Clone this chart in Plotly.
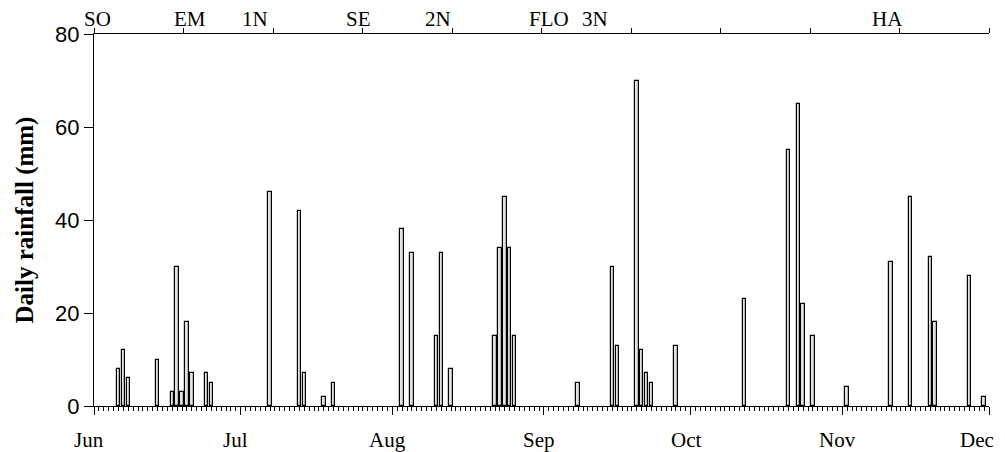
import plotly.graph_objects as go
import pandas as pd
import numpy as np

# ---- data ----
rain_dates = ["06-06", "06-07", "06-08", "06-14", "06-17", "06-18", "06-19", "06-20", "06-21",
              "06-24", "06-25", "07-07", "07-13", "07-14", "07-18", "07-20",
              "08-03", "08-05", "08-10", "08-11", "08-13", "08-22", "08-23", "08-24", "08-25", "08-26",
              "09-08", "09-15", "09-16", "09-20", "09-21", "09-22", "09-23", "09-28",
              "10-12", "10-21", "10-23", "10-24", "10-26",
              "11-02", "11-11", "11-15", "11-19", "11-20", "11-27", "11-30"]
rain_mm = [8, 12, 6, 10, 3, 30, 3, 18, 7,
           7, 5, 46, 42, 7, 2, 5,
           38, 33, 15, 33, 8, 15, 34, 45, 34, 15,
           5, 30, 13, 70, 12, 7, 5, 13,
           23, 55, 65, 22, 15,
           4, 31, 45, 32, 18, 28, 2]

month_labels = ["Jun", "Jul", "Aug", "Sep", "Oct", "Nov", "Dec"]
month_starts = ["06-01", "07-01", "08-01", "09-01", "10-01", "11-01", "12-01"]

stage_names = ["SO", "EM", "1N", "SE", "2N", "FLO", "3N", "HA"]
stage_days = [0.7, 19.6, 32.9, 54.1, 70.4, 93.1, 102.5, 162.3]

y_ticks = [0, 20, 40, 60, 80]

# ---- helpers ----
start = pd.Timestamp("2001-06-01")
def day_offset(md):
    return (pd.Timestamp("2001-" + md) - start).days

x_days = [day_offset(d) for d in rain_dates]
month_pos = [day_offset(d) for d in month_starts]
x_end = month_pos[-1]

serif = "Liberation Serif"
sans = "Liberation Sans"

fig = go.Figure()
fig.add_trace(go.Bar(
    x=x_days, y=rain_mm, width=0.7,
    marker=dict(color="#e2e2e2", line=dict(color="black", width=1.2)),
    showlegend=False, hoverinfo="x+y"))
# invisible trace to activate the top axis
fig.add_trace(go.Scatter(x=[0, x_end], y=[0, 0], xaxis="x2", mode="markers",
                         marker=dict(opacity=0), showlegend=False, hoverinfo="skip"))

fig.update_layout(
    width=997, height=444,
    margin=dict(l=86, r=16, t=26, b=46, autoexpand=False),
    plot_bgcolor="white", paper_bgcolor="white",
    bargap=0,
    xaxis=dict(
        range=[0, x_end], tickmode="array", tickvals=month_pos, showticklabels=False,
        ticks="outside", ticklen=8, tickwidth=1, tickcolor="black",
        showline=True, linecolor="black", linewidth=1, showgrid=False, zeroline=False,
        automargin=False,
        minor=dict(tick0=0, dtick=1, ticks="outside", ticklen=4, tickwidth=1, tickcolor="black", showgrid=False),
    ),
    xaxis2=dict(
        range=[0, x_end], overlaying="x", side="top", tickmode="array",
        tickvals=list(np.linspace(0, x_end, 11)), showticklabels=False,
        ticks="outside", ticklen=5, tickwidth=1, tickcolor="black",
        showline=True, linecolor="black", linewidth=1, showgrid=False, zeroline=False,
        automargin=False,
    ),
    yaxis=dict(
        range=[0, 80], tickmode="array", tickvals=y_ticks,
        ticks="outside", ticklen=9, tickwidth=1, tickcolor="black",
        showline=True, linecolor="black", linewidth=1, showgrid=False, zeroline=False,
        automargin=False,
        tickfont=dict(family=sans, size=22, color="black"),
        title=dict(text="<b>Daily rainfall (mm)</b>", font=dict(family=serif, size=25, color="black"), standoff=14),
    ),
)

# month labels under the bottom axis
for i, (lab, p) in enumerate(zip(month_labels, month_pos)):
    last = i == len(month_labels) - 1
    fig.add_annotation(x=p, y=0, xref="x", yref="paper", text=lab, showarrow=False,
                       yanchor="top", xanchor="right" if last else "center",
                       xshift=7 if last else -5, yshift=-20,
                       font=dict(family=serif, size=21, color="black"))

# growth stage labels above the top axis
for name, d in zip(stage_names, stage_days):
    fig.add_annotation(x=d, y=1, xref="x", yref="paper", text=name, showarrow=False,
                       yanchor="bottom", xanchor="center", yshift=1,
                       font=dict(family=serif, size=21, color="black"))

fig.write_html("out.html")
